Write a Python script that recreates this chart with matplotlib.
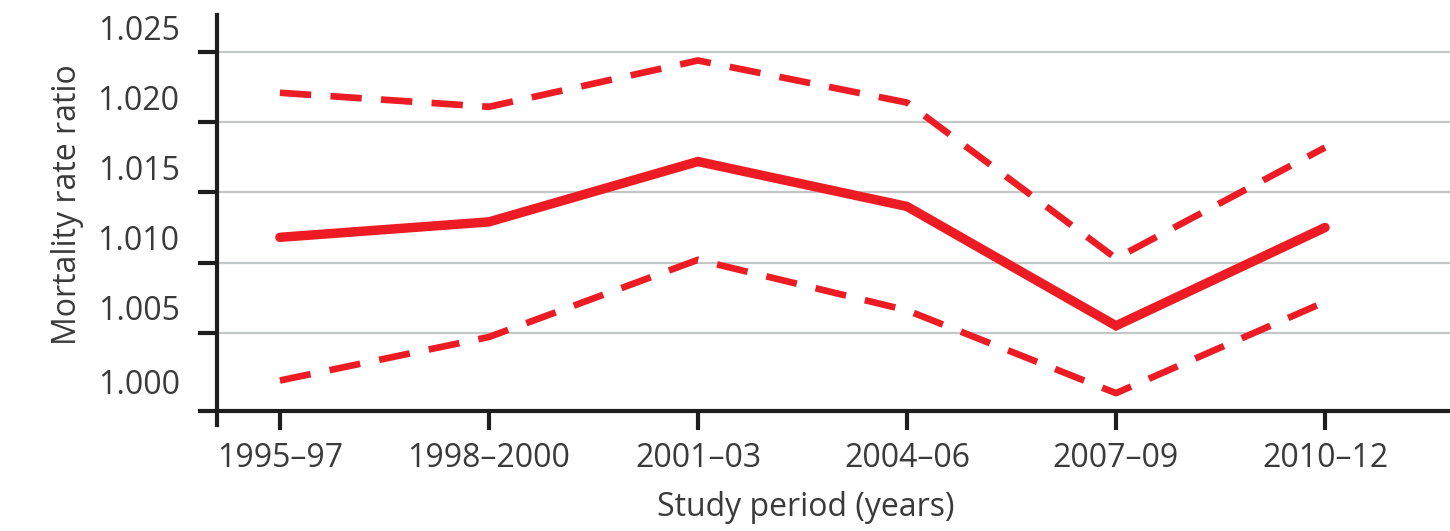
import matplotlib.pyplot as plt
from matplotlib.transforms import ScaledTranslation

periods = ["1995–97", "1998–2000", "2001–03", "2004–06", "2007–09", "2010–12"]
ratio = [1.0118, 1.0129, 1.0172, 1.0140, 1.0055, 1.0125]
upper_ci = [1.0221, 1.0211, 1.0244, 1.0214, 1.0103, 1.0182]
lower_ci = [1.0016, 1.0047, 1.0102, 1.0066, 1.0007, 1.0072]
yticks = [1.000, 1.005, 1.010, 1.015, 1.020, 1.025]

red = "#ed1c24"
ink = "#3a3a3a"
plt.rcParams['font.family'] = ['Open Sans', 'DejaVu Sans']

fig = plt.figure(figsize=(14.5, 5.31), dpi=100)
ax = fig.add_axes([217 / 1450, 1 - 425 / 531, 1 - 217 / 1450, 410 / 531])

x = list(range(len(periods)))
ax.plot(x, ratio, color=red, lw=6.8, solid_capstyle='round', solid_joinstyle='miter', zorder=3)
ax.plot(x, upper_ci, color=red, lw=4.8, dashes=(4.7, 2.9), dash_capstyle='butt', zorder=3)
ax.plot(x, lower_ci, color=red, lw=4.8, dashes=(4.7, 2.9), dash_capstyle='butt', zorder=3)

ax.set_xlim(-0.301, 5.598)
ax.set_ylim(0.99843, 1.02764)
axis_base = 0.99943
ax.spines['bottom'].set_position(('data', axis_base))
for s in ['top', 'right']:
    ax.spines[s].set_visible(False)
for s in ['left', 'bottom']:
    ax.spines[s].set_linewidth(3)
    ax.spines[s].set_color("#1e1e1e")

# ticks/gridlines at 1.005..1.025, each label printed above its gridline
ax.set_yticks(yticks[1:])
ax.set_yticklabels([f"{v:.3f}" for v in yticks[1:]])
ax.set_yticks([axis_base], minor=True)
ax.yaxis.set_minor_formatter(plt.NullFormatter())
ax.grid(axis='y', which='major', color="#c3c7c7", lw=1.6, zorder=0)

ax.tick_params(axis='y', which='both', length=14, width=3, color="#1e1e1e", pad=13,
               labelsize=23, labelcolor=ink)
ax.tick_params(axis='x', length=14, width=3, color="#1e1e1e", pad=8,
               labelsize=23, labelcolor=ink)
ax.set_xticks(x)
ax.set_xticklabels(periods)

off = ScaledTranslation(0, 25 / 100, fig.dpi_scale_trans)
for lab in ax.get_yticklabels():
    lab.set_transform(lab.get_transform() + off)
fig.text(180 / 1450, 1 - 385 / 531, f"{yticks[0]:.3f}", ha='right', va='center', fontsize=23, color=ink)

fig.text(68 / 1450, 1 - 205 / 531, "Mortality rate ratio", rotation=90, ha='center', va='center',
         fontsize=23, color=ink)
fig.text(806 / 1450, 1 - 508 / 531, "Study period (years)", ha='center', va='center',
         fontsize=23, color=ink)

fig.savefig("out.png", dpi=100)
